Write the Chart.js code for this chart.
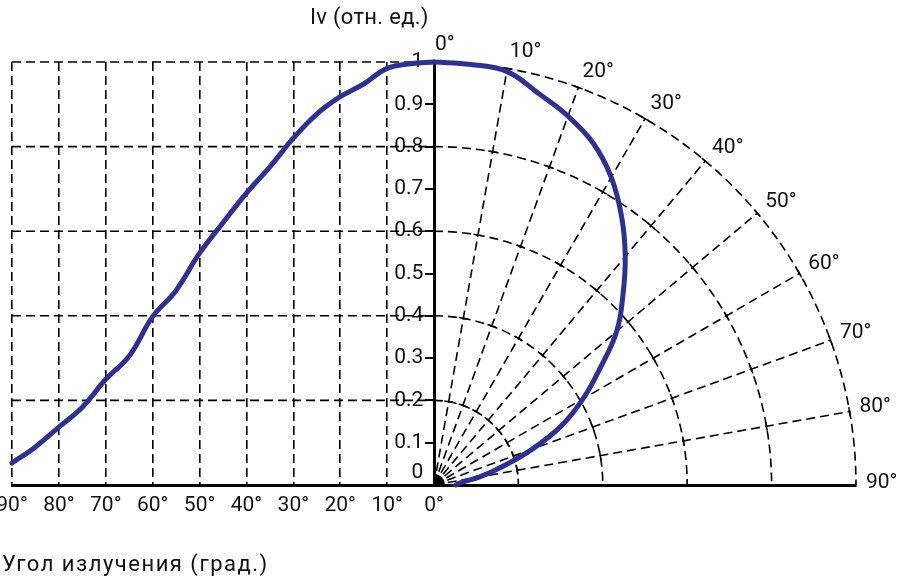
<!DOCTYPE html>
<html><head><meta charset="utf-8">
<script src="https://cdn.jsdelivr.net/npm/chart.js@4.4.0/dist/chart.umd.min.js"></script>
<style>html,body{margin:0;padding:0;background:#fff}canvas{display:block}</style>
</head><body>
<canvas id="c" width="900" height="576"></canvas>
<script>
// ---- data ----
const angleTickLabels = [90, 80, 70, 60, 50, 40, 30, 20, 10, 0];
const polarLabelAngles = [0, 10, 20, 30, 40, 50, 60, 70, 80, 90];
const radialLineAngles = [10, 20, 30, 40, 50, 60, 70, 80];
const ringRadii = [0.2, 0.4, 0.6, 0.8, 1.0];
const intensityTicks = [0, 0.1, 0.2, 0.3, 0.4, 0.5, 0.6, 0.7, 0.8, 0.9, 1.0];

const cartAngles = [0, 5, 10, 15, 20, 25, 30, 35, 40, 45, 50, 55, 60, 65, 70, 75, 80, 85, 90];
const cartValues = [1.0, 0.996, 0.985, 0.948, 0.918, 0.877, 0.82, 0.752, 0.69, 0.62, 0.548, 0.46, 0.398, 0.305, 0.25, 0.184, 0.137, 0.09, 0.052];

const polarAngles = [0, 5, 10, 15, 20, 25, 30, 35, 40, 45, 50, 55, 60, 65, 70, 75, 80, 85, 90];
const polarValues = [1.0, 0.998, 0.993, 0.958, 0.928, 0.892, 0.84, 0.775, 0.705, 0.633, 0.565, 0.48, 0.408, 0.335, 0.248, 0.167, 0.11, 0.064, 0.052];

const topTitle = 'Iv (отн. ед.)';
const bottomTitle = 'Угол излучения (град.)';

// ---- build ----
const FONT = 'Roboto, "DejaVu Sans", sans-serif';
const curveColor = '#2e3192';
const ink = '#111';
const GAP = '\u2002';

const cartData = cartAngles.map((a, i) => ({x: -a / 90, y: cartValues[i]}));
const polarData = polarAngles.map((a, i) => {
  const t = a * Math.PI / 180;
  return {x: polarValues[i] * Math.sin(t), y: polarValues[i] * Math.cos(t)};
});

const polarGrid = {
  id: 'polarGrid',
  beforeDatasetsDraw(chart) {
    const {ctx, scales: {x, y}} = chart;
    const cx = x.getPixelForValue(0), cy = y.getPixelForValue(0);
    const kx = x.getPixelForValue(1) - cx, ky = cy - y.getPixelForValue(1);
    ctx.save();
    ctx.strokeStyle = '#000';
    ctx.lineWidth = 1.6;
    ctx.setLineDash([9, 5]);
    ringRadii.forEach(v => {
      const py = y.getPixelForValue(v);
      ctx.beginPath();
      ctx.moveTo(x.getPixelForValue(-1), py);
      ctx.lineTo(cx, py);
      ctx.stroke();
    });
    ringRadii.forEach(r => {
      ctx.beginPath();
      ctx.ellipse(cx, cy, r * kx, r * ky, 0, -Math.PI / 2, 0);
      ctx.stroke();
    });
    radialLineAngles.forEach(a => {
      const t = a * Math.PI / 180, s = Math.sin(t), c = Math.cos(t);
      ctx.beginPath();
      ctx.moveTo(cx, cy);
      ctx.lineTo(cx + kx * s, cy - ky * c);
      ctx.stroke();
    });
    ctx.setLineDash([]);
    ctx.lineWidth = 1.5;
    ctx.beginPath();
    radialLineAngles.forEach(a => {
      const t = a * Math.PI / 180, s = Math.sin(t), c = Math.cos(t);
      ringRadii.forEach(r => {
        const px = cx + r * kx * s, py = cy - r * ky * c;
        ctx.moveTo(px - 4.5 * c, py - 4.5 * s);
        ctx.lineTo(px + 4.5 * c, py + 4.5 * s);
      });
    });
    ctx.stroke();
    ctx.fillStyle = '#000';
    ctx.beginPath();
    ctx.moveTo(cx, cy);
    ctx.arc(cx, cy, 11, -Math.PI / 2 + 0.12, -0.12);
    ctx.closePath();
    ctx.fill();
    ctx.restore();
  },
  afterDatasetsDraw(chart) {
    const {ctx, scales: {x, y}} = chart;
    const cx = x.getPixelForValue(0), cy = y.getPixelForValue(0);
    const kx = x.getPixelForValue(1) - cx, ky = cy - y.getPixelForValue(1);
    ctx.save();
    ctx.fillStyle = ink;
    ctx.font = '21px ' + FONT;
    ctx.textAlign = 'left';
    ctx.textBaseline = 'middle';
    polarLabelAngles.forEach(a => {
      const t = a * Math.PI / 180, s = Math.sin(t), c = Math.cos(t);
      const ex = cx + kx * s, ey = cy - ky * c;
      ctx.fillText(a + '°', ex + 1 + 9 * s, ey - 2 - 15 * c);
    });
    ctx.textBaseline = 'alphabetic';
    ctx.font = '22px ' + FONT;
    ctx.letterSpacing = '0.3px';
    ctx.fillText(topTitle, 310, 24);
    ctx.letterSpacing = '1.5px';
    ctx.fillText(bottomTitle, 2, 571);
    ctx.restore();
  }
};

new Chart(document.getElementById('c'), {
  type: 'scatter',
  data: {
    datasets: [
      {data: cartData, showLine: true, borderColor: curveColor, borderWidth: 5, pointRadius: 0, tension: 0.4, fill: false, clip: false, borderCapStyle: 'round', borderJoinStyle: 'round'},
      {data: polarData, showLine: true, borderColor: curveColor, borderWidth: 5, pointRadius: 0, tension: 0.4, fill: false, clip: false, borderCapStyle: 'round', borderJoinStyle: 'round'}
    ]
  },
  options: {
    responsive: false,
    animation: false,
    events: [],
    layout: {padding: {left: 12, right: 44, top: 62, bottom: 0}},
    plugins: {legend: {display: false}, tooltip: {enabled: false}, title: {display: false}},
    scales: {
      x: {
        type: 'linear', position: 'bottom', min: -1, max: 1,
        afterBuildTicks: s => { s.ticks = angleTickLabels.map(a => ({value: -a / 90})); },
        afterFit: s => { s.height = 91; s.paddingLeft = 0; s.paddingRight = 0; },
        ticks: {
          autoSkip: false, maxRotation: 0, padding: 8, color: ink,
          font: {family: FONT, size: 21},
          callback: v => Math.round(-v * 90) + '°'
        },
        grid: {
          drawTicks: false, lineWidth: 1.6,
          color: c => (c.tick && Math.abs(c.tick.value) < 1e-6) ? 'rgba(0,0,0,0)' : '#000'
        },
        border: {display: true, color: '#000', width: 3, dash: [9, 5]}
      },
      y: {
        type: 'linear', position: {x: 0}, min: 0, max: 1,
        afterBuildTicks: s => { s.ticks = intensityTicks.map(v => ({value: v})); },
        ticks: {
          autoSkip: false, padding: 3, color: ink,
          font: {family: FONT, size: 21},
          callback: v => v === 0 ? ['0' + GAP, ''] : String(Math.round(v * 10) / 10) + GAP
        },
        grid: {drawOnChartArea: false, drawTicks: true, tickLength: 8, lineWidth: 2, color: '#000', tickColor: '#000'},
        border: {display: true, color: '#000', width: 3}
      }
    }
  },
  plugins: [polarGrid]
});
</script>
</body></html>
